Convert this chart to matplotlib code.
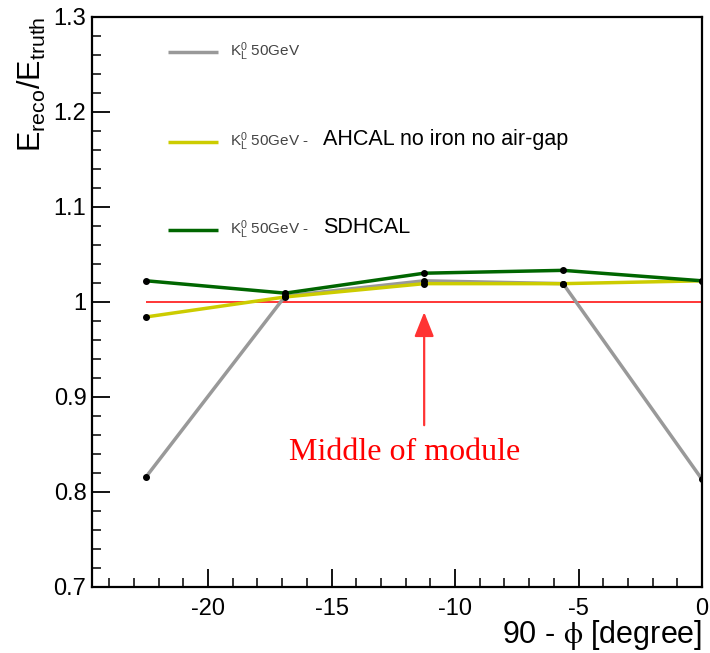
import matplotlib
matplotlib.use("Agg")
import matplotlib.pyplot as plt
from matplotlib.ticker import MultipleLocator, FixedLocator, FixedFormatter

plt.rcParams['font.family'] = ['Liberation Sans', 'DejaVu Sans']
plt.rcParams['mathtext.fontset'] = 'stix'

# ---- data ----
angles = [-22.5, -16.875, -11.25, -5.625, 0.0]
resp_default = [0.816, 1.006, 1.022, 1.019, 0.813]
resp_ahcal = [0.984, 1.005, 1.019, 1.019, 1.022]
resp_sdhcal = [1.022, 1.009, 1.030, 1.033, 1.022]

series_labels = [r'$\mathregular{K_L^0}$ 50GeV', r'$\mathregular{K_L^0}$ 50GeV -', r'$\mathregular{K_L^0}$ 50GeV -']
series_extra = ['', 'AHCAL no iron no air-gap', 'SDHCAL']
series_colors = ['#999999', '#cccc00', '#006600']

yticks = [0.7, 0.8, 0.9, 1.0, 1.1, 1.2, 1.3]
ytick_labels = ['0.7', '0.8', '0.9', '1', '1.1', '1.2', '1.3']
xticks = [-20, -15, -10, -5, 0]
xtick_labels = ['-20', '-15', '-10', '-5', '0']
reference_value = 1.0
module_middle = -11.25

fig = plt.figure(figsize=(7.10, 6.53), dpi=100)
ax = fig.add_axes([92/710, 1 - 586.7/653, 610/710, 570/653])

for vals, col in zip([resp_default, resp_ahcal, resp_sdhcal], series_colors):
    ax.plot(angles, vals, color=col, lw=2.5, solid_capstyle='butt', zorder=2)
    ax.plot(angles, vals, 'o', color='black', ms=4, zorder=4)

ax.hlines(reference_value, angles[0], angles[-1], color='#ff0000', lw=1.1, zorder=1)

ax.annotate('', xy=(module_middle, 0.989), xytext=(module_middle, 0.870),
            arrowprops=dict(arrowstyle='-|>,head_length=1.0,head_width=0.4',
                            color='#ff3333', lw=1.6, mutation_scale=15, shrinkA=0, shrinkB=0))
ax.text(-12.06, 0.841, 'Middle of module', color='#ff0000', fontsize=23,
        family='Liberation Serif', ha='center', va='center')

ax.set_xlim(-24.7, 0.0)
ax.set_ylim(0.7, 1.3)

ax.xaxis.set_major_locator(FixedLocator(xticks))
ax.xaxis.set_major_formatter(FixedFormatter(xtick_labels))
ax.xaxis.set_minor_locator(MultipleLocator(1))
ax.yaxis.set_major_locator(FixedLocator(yticks))
ax.yaxis.set_major_formatter(FixedFormatter(ytick_labels))
ax.yaxis.set_minor_locator(MultipleLocator(0.02))

ax.tick_params(axis='both', which='both', direction='in', top=False, right=False, labelsize=17, color='black')
ax.tick_params(axis='both', which='major', length=13, width=1.3)
ax.tick_params(axis='both', which='minor', length=6.5, width=1.1)
ax.tick_params(axis='x', pad=8)
ax.tick_params(axis='y', pad=4)
for sp in ax.spines.values():
    sp.set_linewidth(1.6)

ax.set_ylabel(r'$\mathregular{E_{reco}/E_{truth}}$', fontsize=22, loc='top')
ax.yaxis.set_label_coords(-0.072, 1.0)
ax.set_xlabel(r'90 - $\mathrm{\phi}$ [degree]', fontsize=22, loc='right')
ax.xaxis.set_label_coords(1.0, -0.084)
ax.xaxis.label.set_va('center')

# legend (drawn in axes fraction)
leg_y = [0.938, 0.780, 0.626]
for lab, extra, col, yy in zip(series_labels, series_extra, series_colors, leg_y):
    ax.plot([0.1246, 0.2066], [yy, yy], color=col, lw=2.5, transform=ax.transAxes, solid_capstyle='butt')
    ax.text(0.226, yy, lab, color='#444444', fontsize=11, transform=ax.transAxes, va='center', ha='left')
    if extra:
        ax.text(0.379, yy + 0.005, extra, color='black', fontsize=15.5, transform=ax.transAxes, va='center', ha='left')

fig.savefig('out.png', dpi=100)
